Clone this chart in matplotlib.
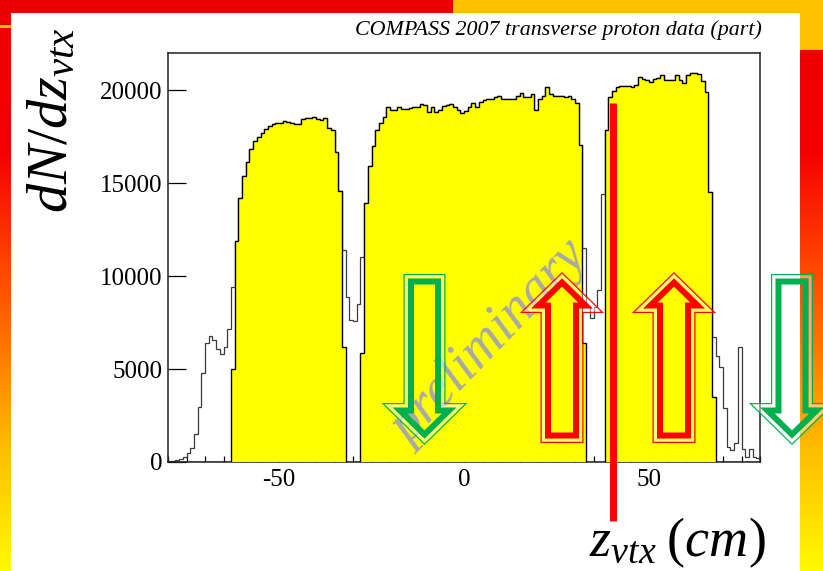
import numpy as np
import matplotlib
matplotlib.use("Agg")
import matplotlib.pyplot as plt
from matplotlib.path import Path
from matplotlib.patches import PathPatch, Rectangle

plt.rcParams["font.family"] = ["Liberation Serif", "DejaVu Serif"]
plt.rcParams["mathtext.fontset"] = "custom"
plt.rcParams["mathtext.it"] = "Liberation Serif:italic"
plt.rcParams["mathtext.rm"] = "Liberation Serif"

# ---- data: vertex z distribution, 1 cm bins from -80 to 80 ----
bin_edges = np.arange(-80, 81, 1)

counts_all = [
    30, 50, 90, 170, 290, 480, 740, 1500, 2980, 4800,
    6380, 6790, 6560, 6080, 5790, 6200, 7170, 9430, 11880, 14190,
    15390, 16160, 16850, 17290, 17455, 17670, 17900, 18080, 18170, 18240,
    18260, 18350, 18300, 18240, 18170, 18170, 18440, 18500, 18530, 18570,
    18440, 18390, 18510, 17940, 17850, 16650, 14580, 11430, 8890, 7650,
    7600, 8500, 11040, 13910, 15910, 17000, 17850, 18260, 18550, 19100,
    18960, 18930, 19070, 19010, 19010, 19030, 19070, 19100, 19250, 19190,
    18840, 19100, 18840, 18960, 19140, 19190, 19250, 19070, 18960, 18780,
    18890, 19100, 19320, 19100, 19370, 19460, 19500, 19530, 19640, 19680,
    19550, 19500, 19550, 19550, 19680, 19860, 19610, 19610, 19820, 18950,
    19500, 19680, 20180, 19780, 19680, 19680, 19680, 19640, 19680, 19550,
    19320, 17040, 11490, 8350, 7720, 8350, 9250, 14400, 17850, 19640,
    19960, 20180, 20220, 20220, 20200, 20180, 20300, 20700, 20600, 20540,
    20450, 20610, 20630, 20840, 20570, 20570, 20540, 20840, 20570, 20390,
    20840, 20900, 20930, 20850, 20500, 19900, 14500, 6740, 5700, 5130,
    2890, 820, 620, 1000, 6200, 700, 290, 700, 250, 200,
]

# events inside the three target cells
counts_cells = [
    0, 0, 0, 0, 0, 0, 0, 0, 0, 0,
    0, 0, 0, 0, 0, 0, 0, 5000, 11880, 14190,
    15390, 16160, 16850, 17290, 17455, 17670, 17900, 18080, 18170, 18240,
    18260, 18350, 18300, 18240, 18170, 18170, 18440, 18500, 18530, 18570,
    18440, 18390, 18510, 17940, 17850, 16650, 14580, 6200, 0, 0,
    0, 0, 5840, 13910, 15910, 17000, 17850, 18260, 18550, 19100,
    18960, 18930, 19070, 19010, 19010, 19030, 19070, 19100, 19250, 19190,
    18840, 19100, 18840, 18960, 19140, 19190, 19250, 19070, 18960, 18780,
    18890, 19100, 19320, 19100, 19370, 19460, 19500, 19530, 19640, 19680,
    19550, 19500, 19550, 19550, 19680, 19860, 19610, 19610, 19820, 18950,
    19500, 19680, 20180, 19780, 19680, 19680, 19680, 19640, 19680, 19550,
    19320, 17040, 6380, 0, 0, 0, 0, 0, 17850, 19640,
    19960, 20180, 20220, 20220, 20200, 20180, 20300, 20700, 20600, 20540,
    20450, 20610, 20630, 20840, 20570, 20570, 20540, 20840, 20570, 20390,
    20840, 20900, 20930, 20850, 20500, 19900, 14500, 3500, 0, 0,
    0, 0, 0, 0, 0, 0, 0, 0, 0, 0,
]

x_ticks = [-50, 0, 50]
y_ticks = [0, 5000, 10000, 15000, 20000]

W, H = 823, 571
fig = plt.figure(figsize=(W / 100, H / 100), dpi=100)

# ---- slide background ----
bg = fig.add_axes([0, 0, 1, 1])
bg.set_xlim(0, W)
bg.set_ylim(H, 0)
bg.axis("off")
ys = np.arange(H)
anch_y = [0, 150, 250, 350, 450, 571]
anch_c = np.array([(235, 0, 0), (245, 0, 0), (255, 60, 0), (255, 120, 0),
                   (255, 190, 0), (255, 250, 0)]) / 255.0
grad = np.stack([np.interp(ys, anch_y, anch_c[:, k]) for k in range(3)], axis=1)
img = np.repeat(grad[:, None, :], W, axis=1)
gold = np.array([255, 192, 0]) / 255.0
img[:13, 453:] = gold
img[:50, 800:] = gold
img[25:28, :11] = gold
bg.imshow(img, extent=(0, W, H, 0), aspect="auto", interpolation="nearest")
bg.add_patch(Rectangle((11, 13), 789, H - 13, facecolor="white", edgecolor="none"))

# ---- histogram frame ----
L, R, T, B = 168, 760, 53, 462
ax = fig.add_axes([L / W, (H - B) / H, (R - L) / W, (B - T) / H])
ax.set_xlim(-80, 80)
ax.set_ylim(0, 22000)
ax.stairs(counts_all, bin_edges, color="#3a3a3a", lw=0.9, zorder=2)
ax.stairs(counts_cells, bin_edges, fill=True, facecolor=(1, 1, 0),
          edgecolor="none", zorder=3)
ax.stairs(counts_cells, bin_edges, color="black", lw=1.0, zorder=4)

ax.set_xticks(x_ticks)
ax.set_xticklabels([str(t) for t in x_ticks])
ax.set_xticks(np.arange(-80, 81, 5), minor=True)
ax.set_yticks(y_ticks)
ax.set_yticklabels([str(t) for t in y_ticks])
ax.tick_params(axis="x", which="major", direction="in", length=9, width=0.9,
               labelsize=18, pad=5, top=False)
ax.tick_params(axis="x", which="minor", direction="in", length=4.5, width=0.9, top=False)
ax.tick_params(axis="y", which="major", direction="in", length=13, width=0.9,
               labelsize=18, pad=4, right=False)
for s in ax.spines.values():
    s.set_linewidth(1.1)
    s.set_color("#222222")

# ---- overlay: labels, arrows, marker line ----
ov = fig.add_axes([0, 0, 1, 1], zorder=5)
ov.set_xlim(0, W)
ov.set_ylim(H, 0)
ov.axis("off")
ov.patch.set_alpha(0)

ov.text(762, 30, "COMPASS 2007 transverse proton data (part)", ha="right",
        va="center", fontsize=15.8, style="italic")
ov.text(53, 120, r"$dN/dz_{vtx}$", rotation=90, ha="center", va="center",
        fontsize=42)
ov.text(766, 556, r"$z_{vtx}\;(cm)$", ha="right", va="baseline", fontsize=39)

ov.text(490, 343, "preliminary", rotation=46, rotation_mode="anchor",
        ha="center", va="center", fontsize=40, style="italic",
        color="#a8a8a8", zorder=6)

ov.plot([613, 613], [103, 521], color=(1, 0, 0), lw=5.0,
        solid_capstyle="butt", zorder=4)


def offset_polygon(pts, d):
    pts = np.asarray(pts, float)
    n = len(pts)
    area = 0.5 * np.sum(pts[:, 0] * np.roll(pts[:, 1], -1)
                        - np.roll(pts[:, 0], -1) * pts[:, 1])
    sgn = 1.0 if area > 0 else -1.0
    lines = []
    for i in range(n):
        p, q = pts[i], pts[(i + 1) % n]
        t = (q - p) / np.linalg.norm(q - p)
        nrm = sgn * np.array([-t[1], t[0]])
        lines.append((p + d * nrm, t))
    out = []
    for i in range(n):
        p1, t1 = lines[i - 1]
        p2, t2 = lines[i]
        a, _ = np.linalg.solve(np.array([t1, -t2]).T, p2 - p1)
        out.append(p1 + a * t1)
    return np.array(out)


def ring(outer, inner, **kw):
    verts = np.vstack([outer, outer[:1], inner[::-1], inner[-1:]])
    n1, n2 = len(outer), len(inner)
    codes = ([Path.MOVETO] + [Path.LINETO] * (n1 - 1) + [Path.CLOSEPOLY]
             + [Path.MOVETO] + [Path.LINETO] * (n2 - 1) + [Path.CLOSEPOLY])
    return PathPatch(Path(verts, codes), **kw)


def hollow_arrow(cx, y_tail, y_headbase, y_tip, shaft_hw, head_hw, color):
    pts = np.array([
        (cx - shaft_hw, y_tail), (cx + shaft_hw, y_tail),
        (cx + shaft_hw, y_headbase), (cx + head_hw, y_headbase),
        (cx, y_tip), (cx - head_hw, y_headbase), (cx - shaft_hw, y_headbase),
    ])
    p0 = offset_polygon(pts, 0.0)
    p1 = offset_polygon(pts, 1.2)
    p2 = offset_polygon(pts, 4.5)
    p3 = offset_polygon(pts, 10.5)
    ov.add_patch(ring(p1, p2, facecolor="white", alpha=0.45, edgecolor="none", zorder=7))
    ov.add_patch(ring(p0, p1, facecolor=color, edgecolor="none", zorder=7))
    ov.add_patch(ring(p2, p3, facecolor=color, edgecolor="none", zorder=7))


green = (0.0, 0.69, 0.31)
red = (1.0, 0.0, 0.0)
hollow_arrow(424.5, 274, 403, 445, 21, 43, green)
hollow_arrow(792, 274, 403, 445, 21, 43, green)
hollow_arrow(562, 443, 313, 272, 21.5, 42, red)
hollow_arrow(674, 443, 313, 272, 21.5, 42, red)

fig.savefig("out.png", dpi=100)
